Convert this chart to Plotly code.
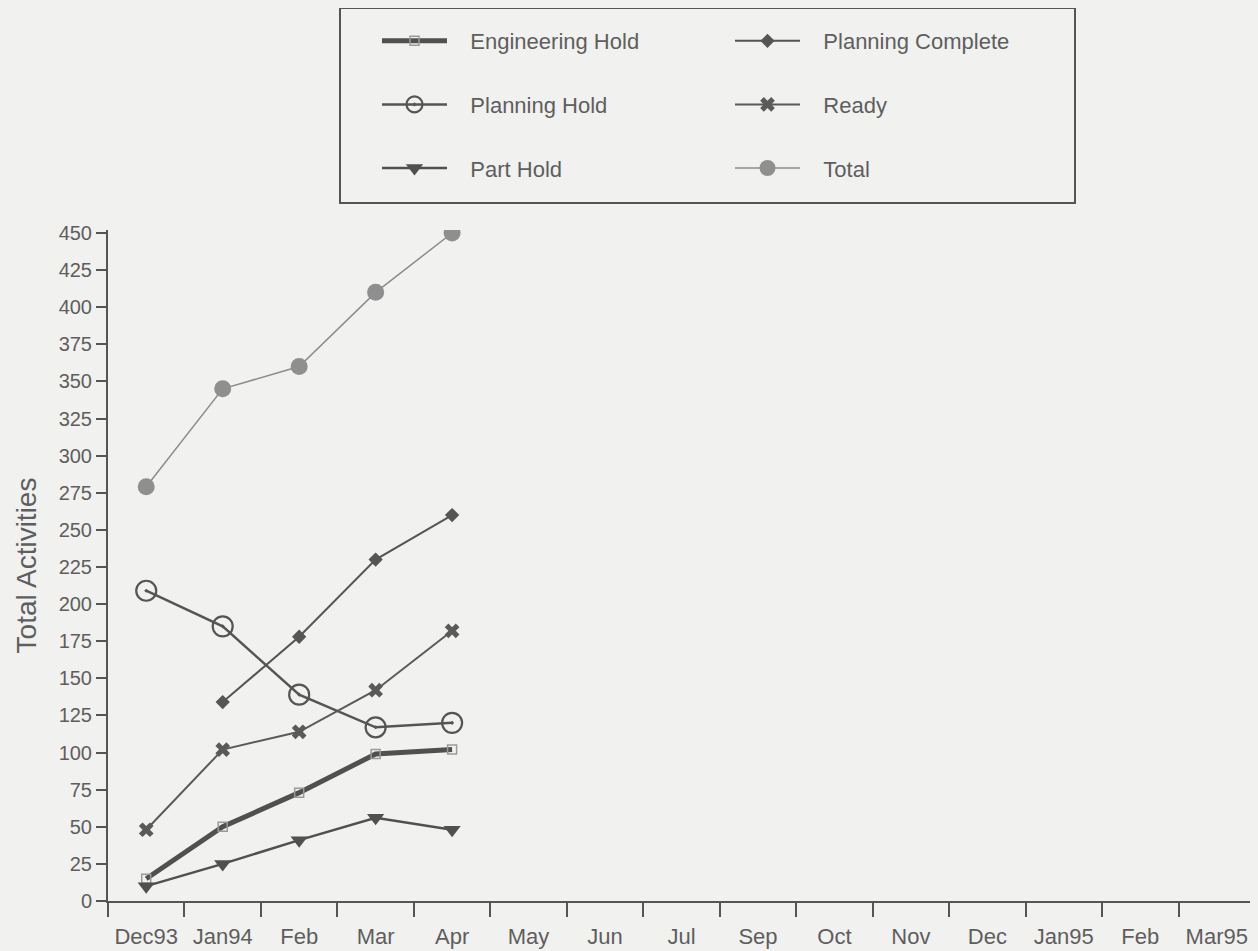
import plotly.graph_objects as go

months = ["Dec93", "Jan94", "Feb", "Mar", "Apr", "May", "Jun", "Jul", "Sep",
          "Oct", "Nov", "Dec", "Jan95", "Feb", "Mar95"]
data_idx = [0, 1, 2, 3, 4]

engineering_hold = [15, 50, 73, 99, 102]
planning_hold = [209, 185, 139, 117, 120]
part_hold = [10, 25, 41, 56, 48]
planning_complete = [None, 134, 178, 230, 260]
ready = [48, 102, 114, 142, 182]
total = [279, 345, 360, 410, 450]

y_ticks = list(range(0, 451, 25))

INK = "#555555"
TXT = "#5e5e5e"
BG = "#f1f1ef"
FONT = "Liberation Sans, Arial, sans-serif"
PAD = "\u00a0\u00a0\u00a0"

# plot area in page pixels: x 108..1255, y 230..901 (page has 8px body offset)
PL, PR, PT, PB = 108, 1255, 230, 901
PW, PH = PR - PL, PB - PT

def px(x):
    return (x - PL) / PW

def py(y):
    return (PB - y) / PH

fig = go.Figure()

def add(name, y, legend, lw, lcolor, symbol, msize, mcolor, mlinew=0, mlinecolor=None):
    fig.add_trace(go.Scatter(
        x=data_idx, y=y, name=PAD + name, mode="lines+markers",
        legend=legend, legendgroup=name,
        line=dict(color=lcolor, width=lw),
        marker=dict(symbol=symbol, size=msize, color=mcolor,
                    line=dict(width=mlinew, color=mlinecolor or mcolor)),
        connectgaps=False,
    ))

add("Engineering Hold", engineering_hold, "legend", 5, "#505050", "square-open", 9, "#9a9a9a", 1.5)
add("Planning Hold", planning_hold, "legend", 2.5, "#555555", "circle-open-dot", 20, "#555555", 2.2)
add("Part Hold", part_hold, "legend", 2.5, "#505050", "triangle-down", 15, "#505050")
add("Planning Complete", planning_complete, "legend2", 2, "#555555", "diamond", 11, "#555555")
add("Ready", ready, "legend2", 2, "#5a5a5a", "x", 13, "#5a5a5a")
add("Total", total, "legend2", 1.5, "#8c8c8c", "circle", 17, "#8f8f8f")

# legend frame
fig.add_shape(type="rect", xref="paper", yref="paper",
              x0=px(340), x1=px(1075), y0=py(203), y1=py(8),
              line=dict(color=INK, width=2), fillcolor="rgba(0,0,0,0)")

legend_common = dict(
    bgcolor="rgba(0,0,0,0)", borderwidth=0,
    font=dict(family=FONT, size=22, color=TXT),
    orientation="v", traceorder="grouped", tracegroupgap=32,
    itemwidth=65, yanchor="top", xanchor="left",
)

fig.update_layout(
    width=1250, height=943,
    paper_bgcolor=BG, plot_bgcolor=BG,
    margin=dict(l=100, r=3, t=222, b=50),
    font=dict(family=FONT, size=20, color=TXT),
    legend=dict(x=px(377), y=py(20), **legend_common),
    legend2=dict(x=px(730), y=py(20), **legend_common),
    xaxis=dict(
        range=[-0.5, 14.5], tickmode="array",
        tickvals=list(range(len(months))), ticktext=months,
        ticks="outside", ticklen=14, tickcolor="rgba(0,0,0,0)",
        ticklabelstandoff=1,
        showline=True, linecolor=INK, linewidth=2,
        showgrid=False, zeroline=False,
        tickfont=dict(family=FONT, size=22, color=TXT),
        minor=dict(tickmode="array",
                   tickvals=[i - 0.5 for i in range(len(months) + 1)],
                   ticks="outside", ticklen=14, tickwidth=2, tickcolor=INK,
                   showgrid=False),
    ),
    yaxis=dict(
        range=[0, 452], tickmode="array", tickvals=y_ticks,
        ticks="outside", ticklen=10, tickwidth=2, tickcolor=INK,
        showline=True, linecolor=INK, linewidth=2,
        showgrid=False, zeroline=False,
        tickfont=dict(family=FONT, size=20, color=TXT),
        title=dict(text="Total Activities", font=dict(family=FONT, size=28, color=TXT), standoff=14),
    ),
)

fig.write_html("out.html", post_script="document.body.style.background='#f1f1ef';")
